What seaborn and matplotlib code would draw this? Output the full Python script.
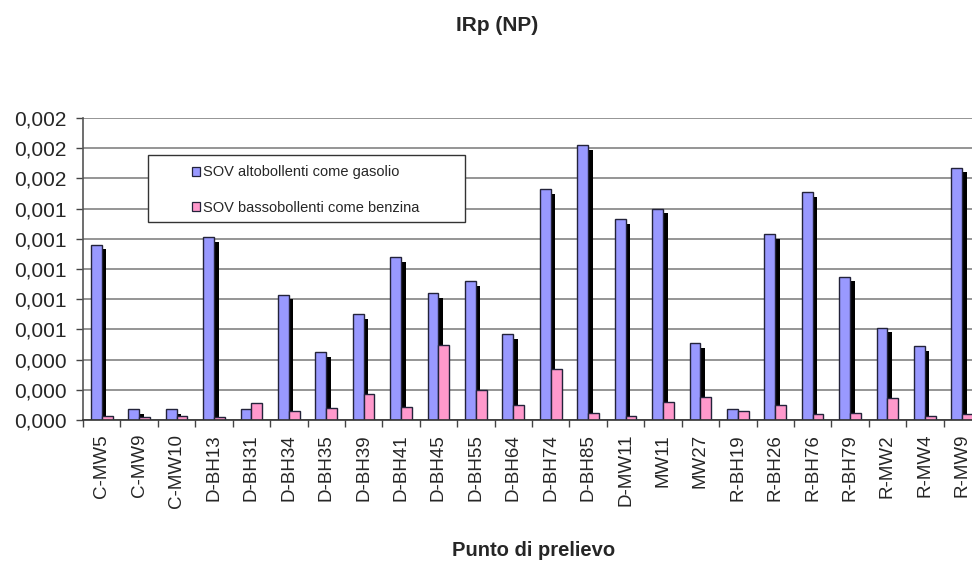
import matplotlib
matplotlib.use("Agg")
import matplotlib.pyplot as plt
import matplotlib.patheffects as pe
from matplotlib.patches import Patch, Rectangle
from matplotlib.ticker import FuncFormatter
import numpy as np
import pandas as pd
import seaborn as sns

punti = ["C-MW5", "C-MW9", "C-MW10", "D-BH13", "D-BH31", "D-BH34", "D-BH35",
         "D-BH39", "D-BH41", "D-BH45", "D-BH55", "D-BH64", "D-BH74", "D-BH85",
         "D-MW11", "MW11", "MW27", "R-BH19", "R-BH26", "R-BH76", "R-BH79",
         "R-MW2", "R-MW4", "R-MW9"]

altobollenti = [0.00116, 0.00007, 0.00007, 0.00121, 0.00007, 0.00083, 0.00045,
                0.00070, 0.00108, 0.00084, 0.00092, 0.00057, 0.00153, 0.00182,
                0.00133, 0.00140, 0.00051, 0.00007, 0.00123, 0.00151, 0.00095,
                0.00061, 0.00049, 0.00167]

bassobollenti = [0.000026, 0.00002, 0.000026, 0.00002, 0.00011, 0.000062, 0.000077,
                 0.000172, 0.000088, 0.0005, 0.0002, 0.0001, 0.000336, 0.000044,
                 0.000026, 0.000121, 0.000155, 0.00006, 0.0001, 0.00004, 0.000044,
                 0.000144, 0.000026, 0.00004]

serie = ["SOV altobollenti come gasolio", "SOV bassobollenti come benzina"]
colori = ["#9999FF", "#FF99CC"]

df = pd.DataFrame({
    "punto": punti * 2,
    "valore": altobollenti + bassobollenti,
    "serie": [serie[0]] * len(punti) + [serie[1]] * len(punti),
})

sns.set_style("white")
plt.rcParams["font.family"] = ["Liberation Sans", "DejaVu Sans"]

fig = plt.figure(figsize=(9.72, 5.63), dpi=100)
ax = fig.add_axes([83 / 972, 143 / 563, 898 / 972, 302 / 563])

sns.barplot(data=df, x="punto", y="valore", hue="serie", palette=colori,
            width=0.58, gap=0, saturation=1, edgecolor="#23233a", linewidth=1.0,
            errorbar=None, legend=False, ax=ax)

# fake 3D depth on the blue bars
for bar in ax.containers[0]:
    bar.set_path_effects([pe.SimplePatchShadow(offset=(3.3, -3.3), shadow_rgbFace="black", alpha=1),
                          pe.Normal()])

ax.set_ylim(0, 0.002)
ax.set_yticks(np.linspace(0, 0.002, 11))
ax.yaxis.set_major_formatter(FuncFormatter(lambda v, p: f"{v:.3f}".replace(".", ",")))
ax.yaxis.grid(True, color="#8c8c8c", linewidth=1.3)
ax.set_axisbelow(True)

ax.set_xlim(-0.5, len(punti) - 0.5)
ax.set_xticks(range(len(punti)))
ax.set_xticklabels(punti, rotation=90)
ax.set_xticks(np.arange(-0.5, len(punti), 1), minor=True)
ax.tick_params(axis="x", which="major", length=0, pad=10, labelsize=13.5)
ax.tick_params(axis="x", which="minor", length=5, width=1, color="#444444", direction="out")
ax.tick_params(axis="y", length=5, width=1, color="#444444", direction="out", pad=7, labelsize=15)
ax.xaxis.set_tick_params(bottom=True, which="both")
ax.yaxis.set_tick_params(left=True)

for s in ["top", "right"]:
    ax.spines[s].set_visible(False)
ax.spines["left"].set_color("#555555")
ax.spines["bottom"].set_color("#333333")
ax.spines["left"].set_linewidth(1.2)
ax.spines["bottom"].set_linewidth(1.2)

ax.set_xlabel("")
ax.set_ylabel("")

# legend box
ax.add_patch(Rectangle((0.0724, 0.656), 0.353, 0.221, transform=ax.transAxes,
                       facecolor="white", edgecolor="#333333", linewidth=1, zorder=4.5))
handles = [Patch(facecolor=c, edgecolor="#23233a", linewidth=0.9) for c in colori]
ax.legend(handles, serie, loc="center left", bbox_to_anchor=(0.121, 0.7616),
          frameon=False, fontsize=10.5, handlelength=0.6, handleheight=0.6,
          handletextpad=0.2, labelspacing=1.45, borderpad=0, borderaxespad=0)

fig.text(0.511, 0.955, "IRp (NP)", ha="center", va="center", fontweight="bold", fontsize=15)
fig.text(0.549, 0.023, "Punto di prelievo", ha="center", va="center", fontweight="bold", fontsize=14.5)

fig.savefig("out.png", dpi=100)
